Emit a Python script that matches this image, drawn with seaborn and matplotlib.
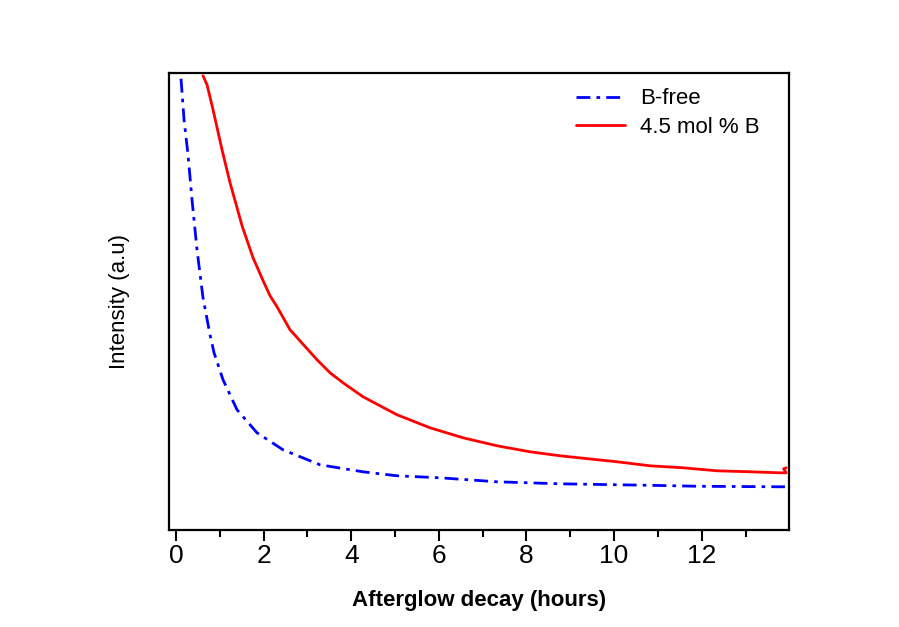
import matplotlib
matplotlib.use("Agg")
import matplotlib.pyplot as plt
import seaborn as sns
import pandas as pd
from matplotlib.ticker import FixedLocator

sns.set_theme(style="white")
plt.rcParams['font.family'] = ['Liberation Sans', 'DejaVu Sans']
plt.rcParams['text.color'] = 'black'
plt.rcParams['axes.labelcolor'] = 'black'
plt.rcParams['xtick.color'] = 'black'

# B-free series (hours, arbitrary intensity)
bfree_x = [0.114, 0.183, 0.274, 0.365, 0.479, 0.616, 0.776, 0.868, 1.073, 1.393, 1.849, 2.443,
           3.288, 4.269, 5.046, 6.027, 7.329, 8.767, 10.82, 11.96, 13.90]
bfree_y = [451, 410, 375, 330, 280, 232, 195, 177, 150, 120, 97, 80,
           65, 58, 54, 52, 48, 46, 44.5, 43.5, 43]

# 4.5 mol % B series
b45_x = [0.616, 0.708, 0.845, 1.050, 1.233, 1.393, 1.507, 1.758, 2.009, 2.146, 2.306, 2.603,
         3.219, 3.516, 3.813, 4.269, 5.046, 5.799, 6.553, 7.329, 8.082, 8.767, 10.07, 10.82,
         11.58, 12.35, 13.11, 13.79, 13.93, 13.87, 13.93]
b45_y = [454, 445, 420, 380, 347, 322, 304, 272, 247, 234, 223, 200,
         170, 157, 147, 133, 115, 102, 92, 84, 78, 74, 68, 64,
         62, 59, 58, 57, 57, 61, 62]

labels = ["B-free", "4.5 mol % B"]
xticks = [0, 2, 4, 6, 8, 10, 12]
minor_xticks = [1, 3, 5, 7, 9, 11, 13]

df1 = pd.DataFrame({"x": bfree_x, "y": bfree_y})
df2 = pd.DataFrame({"x": b45_x, "y": b45_y})

fig = plt.figure(figsize=(8.99, 6.27), dpi=100)
ax = fig.add_axes([0.188, 0.155, 0.690, 0.729])

sns.lineplot(data=df1, x="x", y="y", ax=ax, sort=False, estimator=None,
             color="#0000ff", lw=2, linestyle=(0, (5, 2.2, 1.3, 2.2)), label=labels[0])
sns.lineplot(data=df2, x="x", y="y", ax=ax, sort=False, estimator=None,
             color="#ff0000", lw=2, label=labels[1])

ax.set_xlim(-0.16, 14.0)
ax.set_ylim(0, 457)
ax.set_xticks(xticks)
ax.set_xticklabels([str(t) for t in xticks])
ax.xaxis.set_minor_locator(FixedLocator(minor_xticks))
ax.set_yticks([])
ax.tick_params(axis='x', which='major', direction='out', length=8, width=1.5,
               labelsize=19, bottom=True, pad=2, color='black', labelcolor='black')
ax.tick_params(axis='x', which='minor', direction='out', length=5, width=1.5, bottom=True, color='black')

for s in ax.spines.values():
    s.set_color('black')
    s.set_linewidth(1.6)

ax.set_xlabel("Afterglow decay (hours)", fontsize=16, fontweight='bold', labelpad=16, color='black')
ax.set_ylabel("Intensity (a.u)", fontsize=16, labelpad=28, color='black')

leg = ax.legend(loc='upper right', frameon=False, fontsize=16, handlelength=2.2,
                borderaxespad=0.3, bbox_to_anchor=(0.978, 1.0), handletextpad=0.7,
                labelspacing=0.35)
for t in leg.get_texts():
    t.set_color('black')

fig.savefig("out.png", dpi=100, facecolor='white')
